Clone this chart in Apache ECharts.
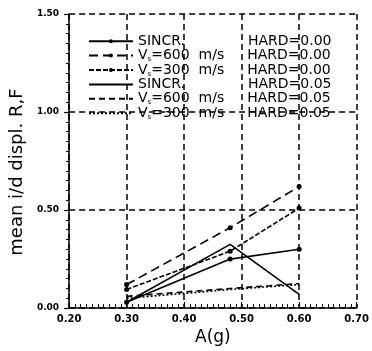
<!DOCTYPE html>
<html>
<head>
<meta charset="utf-8">
<script src="https://cdn.jsdelivr.net/npm/echarts@6/dist/echarts.min.js"></script>
<style>html,body{margin:0;padding:0;background:#fff}#c{width:372px;height:351px}</style>
</head>
<body>
<div id="c"></div>
<script>
// Data
const aValues = [0.30, 0.48, 0.60];
const sincrHard000 = [0.03, 0.25, 0.30];
const v600Hard000 = [0.12, 0.41, 0.62];
const v300Hard000 = [0.095, 0.29, 0.51];
const sincrHard005 = [0.03, 0.325, 0.07];
const v600Hard005 = [0.06, 0.10, 0.125];
const v300Hard005 = [0.05, 0.095, 0.12];
const xTicks = [0.20, 0.30, 0.40, 0.50, 0.60, 0.70];
const yTicks = [0.00, 0.50, 1.00, 1.50];

const seriesDefs = [
  {name: 'SINCR. HARD=0.00', vals: sincrHard000, label: '{n|SINCR.}{h|HARD=0.00}', line: 'solid', sym: 'circle'},
  {name: 'V600 HARD=0.00', vals: v600Hard000, label: '{v|V}{s|s}{m|=600  m/s}{h|HARD=0.00}', line: [9, 5], sym: 'circle'},
  {name: 'V300 HARD=0.00', vals: v300Hard000, label: '{v|V}{s|s}{m|=300  m/s}{h|HARD=0.00}', line: [5, 2], sym: 'circle'},
  {name: 'SINCR. HARD=0.05', vals: sincrHard005, label: '{n|SINCR.}{h|HARD=0.05}', line: 'solid', sym: 'none'},
  {name: 'V600 HARD=0.05', vals: v600Hard005, label: '{v|V}{s|s}{m|=600  m/s}{h|HARD=0.05}', line: [6, 4], sym: 'none'},
  {name: 'V300 HARD=0.05', vals: v300Hard005, label: '{v|V}{s|s}{m|=300  m/s}{h|HARD=0.05}', line: [2, 2], sym: 'none'}
];
const labelMap = {};
seriesDefs.forEach(d => labelMap[d.name] = d.label);

const chart = echarts.init(document.getElementById('c'), null, {renderer: 'canvas'});
const FONT = 'DejaVu Sans';
chart.setOption({
  backgroundColor: '#fff',
  animation: false,
  grid: {left: 62, right: 10, top: 14, bottom: 36},
  legend: {
    left: 83, top: 29, orient: 'vertical',
    itemWidth: 44, itemHeight: 5, itemGap: 0,
    data: seriesDefs.map(d => d.sym === 'none'
      ? {name: d.name, itemStyle: {opacity: 0}}
      : {name: d.name}),
    formatter: n => labelMap[n],
    textStyle: {
      color: '#000', fontFamily: FONT, fontSize: 14, lineHeight: 14.4,
      rich: {
        n: {fontFamily: FONT, fontSize: 14, width: 110, color: '#000'},
        v: {fontFamily: FONT, fontSize: 14, color: '#000'},
        s: {fontFamily: FONT, fontSize: 7, verticalAlign: 'bottom', color: '#000'},
        m: {fontFamily: FONT, fontSize: 14, width: 96, color: '#000'},
        h: {fontFamily: FONT, fontSize: 14, color: '#000'}
      }
    }
  },
  xAxis: {
    type: 'value', min: xTicks[0], max: xTicks[xTicks.length - 1], interval: 0.1,
    name: 'A(g)', nameLocation: 'middle', nameGap: 18,
    nameTextStyle: {fontFamily: FONT, fontSize: 17, color: '#000'},
    axisLine: {show: true, onZero: false, lineStyle: {color: '#000', width: 1.5}},
    axisTick: {show: true, inside: true, length: 6, lineStyle: {color: '#000', width: 1.2}},
    minorTick: {show: true, splitNumber: 10, length: 4, lineStyle: {color: '#000', width: 1}},
    axisLabel: {margin: 6, fontFamily: FONT, fontSize: 10, fontWeight: 'bold', color: '#000',
      formatter: v => v.toFixed(2)},
    splitLine: {show: true, lineStyle: {color: '#000', type: [6, 4], width: 1.5}}
  },
  yAxis: {
    type: 'value', min: yTicks[0], max: yTicks[yTicks.length - 1], interval: 0.5,
    name: 'mean i/d displ. R,F', nameLocation: 'middle', nameGap: 36,
    nameTextStyle: {fontFamily: FONT, fontSize: 18, color: '#000', padding: [0, 22, 0, 0]},
    axisLine: {show: true, lineStyle: {color: '#000', width: 1.5}},
    axisTick: {show: true, length: 5, lineStyle: {color: '#000', width: 1.2}},
    minorTick: {show: true, splitNumber: 10, length: 3, lineStyle: {color: '#000', width: 1}},
    axisLabel: {margin: 10, fontFamily: FONT, fontSize: 9, fontWeight: 'bold', color: '#000',
      formatter: v => v.toFixed(2)},
    splitLine: {show: true, lineStyle: {color: '#000', type: [6, 4], width: 1.5}}
  },
  series: seriesDefs.map(d => ({
    name: d.name, type: 'line',
    data: aValues.map((a, i) => [a, d.vals[i]]),
    symbol: d.sym, symbolSize: 5, showSymbol: d.sym !== 'none',
    itemStyle: {color: '#000'},
    lineStyle: {color: '#000', width: 1.6, type: d.line}
  }))
});
</script>
</body>
</html>
